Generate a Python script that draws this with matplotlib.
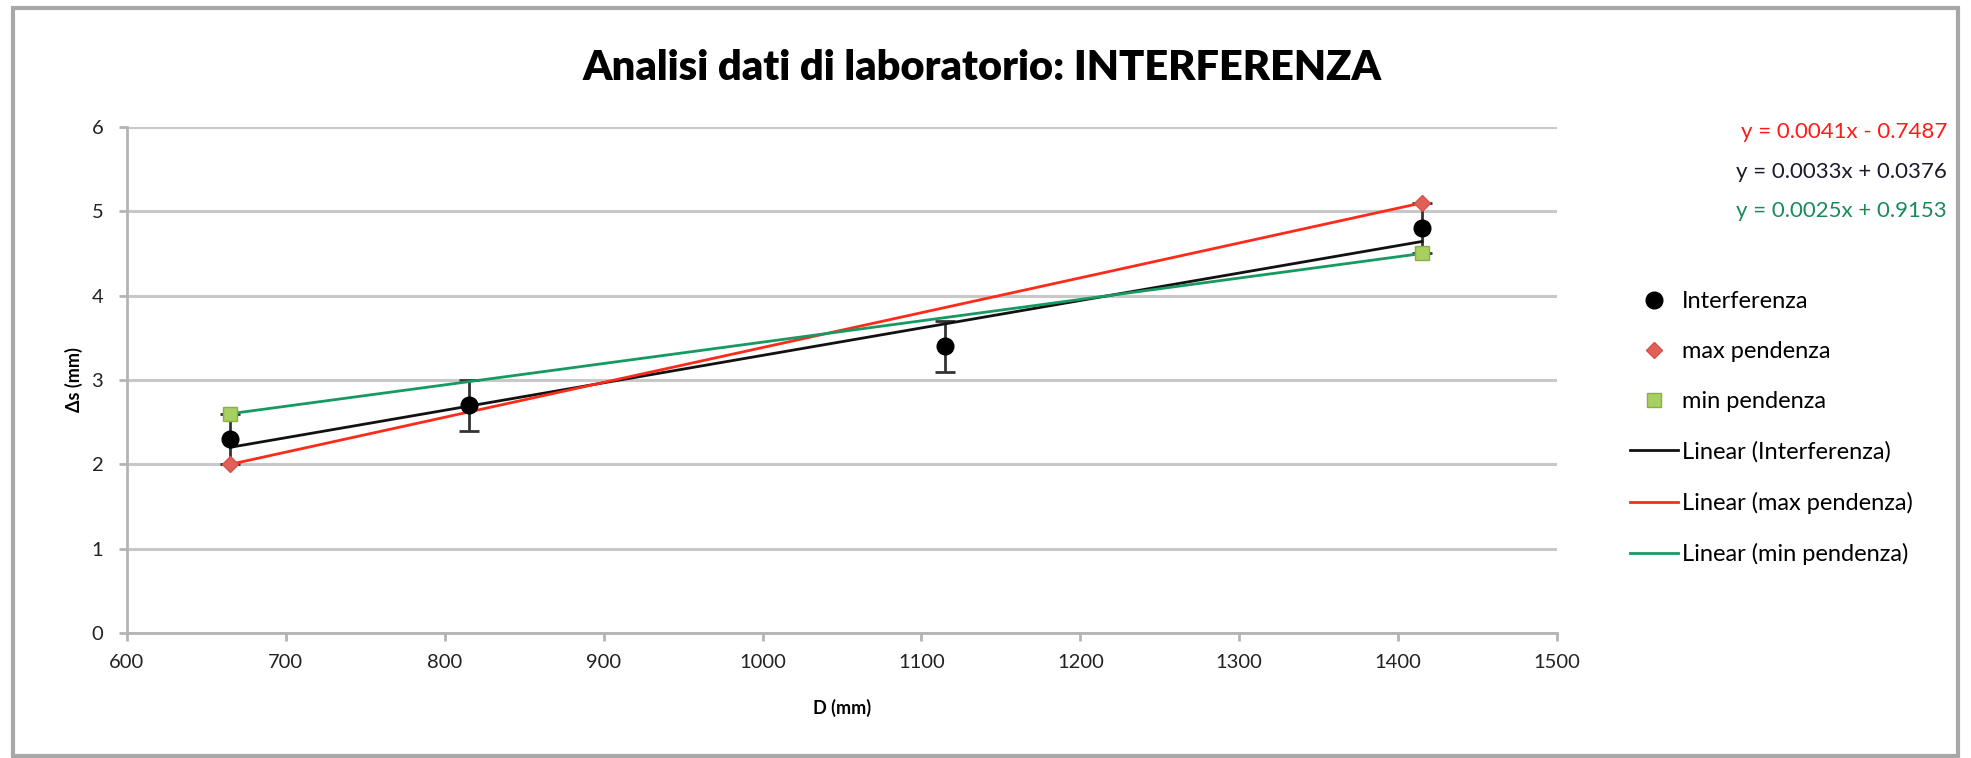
import numpy as np
import matplotlib
matplotlib.use("Agg")
import matplotlib.pyplot as plt
from matplotlib.patches import Rectangle

plt.rcParams['font.family'] = ['Lato', 'DejaVu Sans']

# dati di laboratorio
distanza = [665, 815, 1115, 1415]       # D (mm)
delta_s = [2.3, 2.7, 3.4, 4.8]          # Δs (mm)
errore = [0.3, 0.3, 0.3, 0.3]

max_x = [665, 1415]
max_y = [2.0, 5.1]
min_x = [665, 1415]
min_y = [2.6, 4.5]

x_ticks = [600, 700, 800, 900, 1000, 1100, 1200, 1300, 1400, 1500]
y_ticks = [0, 1, 2, 3, 4, 5, 6]

nero = '#111111'
rosso = '#ff2a1a'
verde = '#179a62'


def retta(x, y):
    m, q = np.polyfit(x, y, 1)
    xs = np.array([min(x), max(x)])
    return xs, m * xs + q, m, q


def equazione(m, q):
    segno = '+' if q >= 0 else '-'
    return f'y = {m:.4f}x {segno} {abs(q):.4f}'


fig = plt.figure(figsize=(19.71, 7.58), dpi=100)
ax = fig.add_axes([0.0644, 0.1649, 0.7256, 0.6676])

# cornice esterna
fig.patches.append(Rectangle((0.0066, 0.003), 0.9868, 0.986, transform=fig.transFigure,
                             fill=False, edgecolor='#a8a8a8', linewidth=3))

ax.errorbar(distanza, delta_s, yerr=errore, fmt='none', ecolor='#333333',
            elinewidth=2, capsize=7, capthick=2, zorder=3)

xi, yi, mi, qi = retta(distanza, delta_s)
xa, ya, ma, qa = retta(max_x, max_y)
xb, yb, mb, qb = retta(min_x, min_y)

l1, = ax.plot(xi, yi, color=nero, lw=2, zorder=4)
l2, = ax.plot(xa, ya, color=rosso, lw=2, zorder=4)
l3, = ax.plot(xb, yb, color=verde, lw=2, zorder=4)

p1, = ax.plot(distanza, delta_s, 'o', color='black', markersize=12, zorder=5)
p2, = ax.plot(max_x, max_y, 'D', color='#e06058', markeredgecolor='#d85048',
              markersize=8, zorder=6)
p3, = ax.plot(min_x, min_y, 's', color='#a8d060', markeredgecolor='#88b040',
              markersize=10, zorder=6)

ax.set_xlim(600, 1500)
ax.set_ylim(0, 6)
ax.set_xticks(x_ticks)
ax.set_yticks(y_ticks)
ax.grid(axis='y', color='#c8c8c8', linewidth=2.2)
ax.set_axisbelow(True)
for s in ['top', 'right']:
    ax.spines[s].set_visible(False)
for s in ['left', 'bottom']:
    ax.spines[s].set_color('#b4b4b4')
    ax.spines[s].set_linewidth(2)
ax.tick_params(direction='out', length=6, width=2, color='#b4b4b4',
               labelsize=14.5, labelcolor='#222222')
ax.tick_params(axis='y', pad=11)
ax.tick_params(axis='x', pad=9)

ax.set_xlabel('D (mm)', fontsize=13, fontweight='bold', va='top')
ax.xaxis.set_label_coords(0.5, -0.13)
ax.set_ylabel('Δs (mm)', fontsize=13, fontweight='bold')
ax.yaxis.set_label_coords(-0.031, 0.5)

fig.text(982 / 1971, 1 - 68 / 758, 'Analisi dati di laboratorio: INTERFERENZA',
         ha='center', va='center', fontsize=30, fontweight='heavy')

# equazioni delle rette
fig.text(1947 / 1971, 1 - 132 / 758, equazione(ma, qa), color='#ff1a1a',
         ha='right', va='center', fontsize=16)
fig.text(1947 / 1971, 1 - 172 / 758, equazione(mi, qi), color='#1a1a2a',
         ha='right', va='center', fontsize=16)
fig.text(1947 / 1971, 1 - 211 / 758, equazione(mb, qb), color='#1a8a5a',
         ha='right', va='center', fontsize=16)

fig.legend([p1, p2, p3, l1, l2, l3],
           ['Interferenza', 'max pendenza', 'min pendenza',
            'Linear (Interferenza)', 'Linear (max pendenza)', 'Linear (min pendenza)'],
           loc='center left', bbox_to_anchor=(1630 / 1971, 1 - 428 / 758),
           frameon=False, fontsize=17, numpoints=1, handlelength=2.05,
           handletextpad=0.15, labelspacing=1.23, borderpad=0, borderaxespad=0)

fig.savefig('out.png', dpi=100)
